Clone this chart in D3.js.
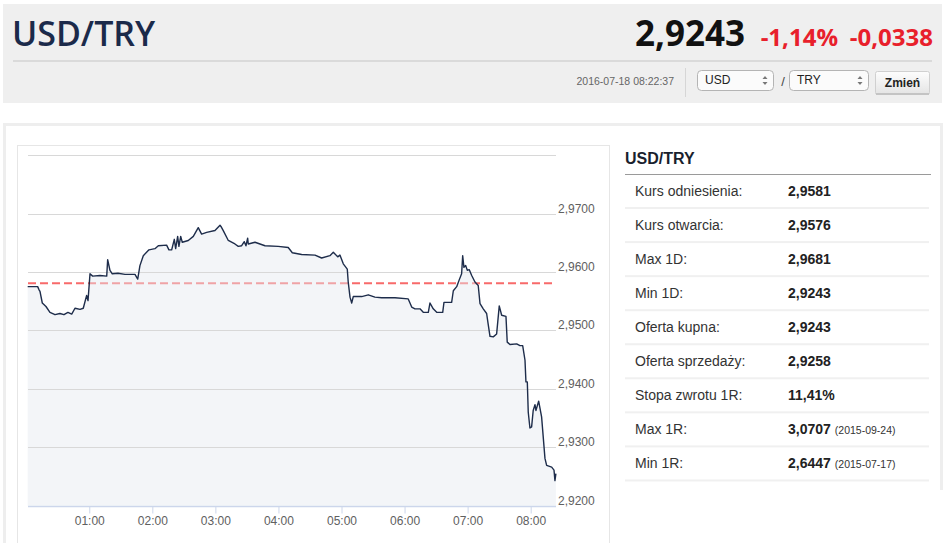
<!DOCTYPE html>
<html><head><meta charset="utf-8">
<script src="https://cdn.jsdelivr.net/npm/d3@7"></script>
<style>
html,body{margin:0;padding:0;background:#fff;width:945px;height:543px;overflow:hidden}
svg{display:block}
</style></head><body>
<svg id="c" width="945" height="543"></svg>
<script>
// ---------- data ----------
const pairName = "USD/TRY";
const lastPrice = "2,9243";
const changePct = "-1,14%";
const changeAbs = "-0,0338";
const timestamp = "2016-07-18 08:22:37";
const baseCur = "USD";
const quoteCur = "TRY";
const buttonLabel = "Zmień";
const referenceRate = 2.9581;

// minutes after 00:00 on 2016-07-18
const minutes = [1.4,10.9,12.1,13.1,15.3,18.8,22.6,27.4,32.1,35.9,39.7,43.3,46.4,51.2,54.3,57.5,58.8,60.7,63.2,70.2,76.6,77.5,79.7,81.9,87.3,94.0,103.5,106.1,108.2,111.4,116.8,122.5,125.7,133.6,135.8,138.4,140.9,142.2,144.1,145.3,147.0,148.5,154.2,159.0,163.7,166.9,171.7,179.6,184.4,185.3,187.5,192.3,198.6,201.8,205.0,207.5,209.1,210.7,211.3,217.7,227.2,239.8,249.3,253.2,262.1,274.8,281.1,289.0,292.2,296.4,298.5,301.7,305.5,306.4,308.1,309.7,311.2,319.2,325.5,331.8,338.2,350.9,363.5,366.8,369.9,374.7,377.8,382.6,384.2,387.3,390.6,396.3,397.5,404.8,406.4,409.6,412.1,414.3,415.3,416.5,418.2,419.7,421.6,423.9,427.0,430.1,431.8,434.9,438.1,439.7,441.3,444.4,447.6,450.1,452.4,456.5,457.7,460.3,466.7,469.8,472.4,474.6,475.5,476.8,477.7,479.3,480.9,482.4,484.1,485.0,487.6,490.4,493.6,495.2,500.0,502.2,503.1,504.0];
const rates = [2.9575,2.9575,2.9570,2.9567,2.9547,2.9541,2.9531,2.9527,2.9529,2.9527,2.9531,2.9528,2.9538,2.9536,2.9538,2.9560,2.9551,2.9597,2.9593,2.9594,2.9593,2.9621,2.9603,2.9597,2.9598,2.9596,2.9596,2.9588,2.9611,2.9628,2.9638,2.9640,2.9645,2.9646,2.9638,2.9638,2.9656,2.9640,2.9661,2.9644,2.9661,2.9651,2.9654,2.9661,2.9676,2.9665,2.9668,2.9671,2.9680,2.9678,2.9671,2.9654,2.9648,2.9644,2.9645,2.9652,2.9645,2.9658,2.9648,2.9651,2.9645,2.9644,2.9642,2.9633,2.9630,2.9629,2.9624,2.9628,2.9634,2.9626,2.9629,2.9614,2.9605,2.9583,2.9557,2.9547,2.9558,2.9558,2.9561,2.9557,2.9556,2.9556,2.9554,2.9540,2.9537,2.9537,2.9531,2.9531,2.9547,2.9537,2.9531,2.9531,2.9548,2.9548,2.9568,2.9575,2.9587,2.9597,2.9628,2.9608,2.9611,2.9603,2.9604,2.9594,2.9583,2.9577,2.9546,2.9537,2.9529,2.9509,2.9490,2.9489,2.9494,2.9542,2.9526,2.9524,2.9480,2.9476,2.9477,2.9474,2.9474,2.9449,2.9412,2.9412,2.9360,2.9333,2.9335,2.9363,2.9373,2.9363,2.9379,2.9352,2.9281,2.9269,2.9266,2.9261,2.9243,2.9255];

const xDomainMinutes = [1.7, 504.1];
const yDomain = [2.92, 2.98];
const gridValues = [2.93, 2.94, 2.95, 2.96, 2.97, 2.98];
const yTickLabels = [2.92, 2.93, 2.94, 2.95, 2.96, 2.97];

const statLabels = ["Kurs odniesienia:", "Kurs otwarcia:", "Max 1D:", "Min 1D:", "Oferta kupna:", "Oferta sprzedaży:", "Stopa zwrotu 1R:", "Max 1R:", "Min 1R:"];
const statValues = ["2,9581", "2,9576", "2,9681", "2,9243", "2,9243", "2,9258", "11,41%", "3,0707", "2,6447"];
const statNotes  = ["", "", "", "", "", "", "", "(2015-09-24)", "(2015-07-17)"];

// ---------- drawing ----------
const svg = d3.select("#c");
const F = "'Liberation Sans', Arial, sans-serif";
const H = "'Open Sans', 'Liberation Sans', Arial, sans-serif";

// header box
svg.append("rect").attr("x",3).attr("y",4).attr("width",939).attr("height",99).attr("fill","#efefef");
svg.append("text").attr("x",12).attr("y",46).attr("font-family",H).attr("font-weight",600)
  .attr("font-size",34).attr("fill","#1b2a4a").text(pairName);
svg.append("text").attr("x",933).attr("y",46).attr("text-anchor","end").attr("font-family",H).attr("font-weight",700)
  .attr("font-size",24).attr("fill","#e8202b").text(changeAbs);
svg.append("text").attr("x",838).attr("y",46).attr("text-anchor","end").attr("font-family",H).attr("font-weight",700)
  .attr("font-size",24).attr("fill","#e8202b").text(changePct);
svg.append("text").attr("x",745).attr("y",46).attr("text-anchor","end").attr("font-family",H).attr("font-weight",700)
  .attr("font-size",35).attr("fill","#111").text(lastPrice);
svg.append("rect").attr("x",13).attr("y",60).attr("width",919).attr("height",2).attr("fill","#dadada");
svg.append("text").attr("x",674).attr("y",85).attr("text-anchor","end").attr("font-family",F)
  .attr("font-size",10.5).attr("fill","#666").text(timestamp);
svg.append("rect").attr("x",685).attr("y",68).attr("width",1).attr("height",29).attr("fill","#d6d6d6");

function selectBox(x0, w, label){
  const g = svg.append("g");
  g.append("rect").attr("x",x0+0.5).attr("y",70.5).attr("width",w).attr("height",20).attr("rx",4)
    .attr("fill","#fbfbfb").attr("stroke","#b4b4b4");
  g.append("text").attr("x",x0+8).attr("y",84).attr("font-family",F).attr("font-size",12).attr("fill","#222").text(label);
  const ax = x0 + w - 8;
  g.append("path").attr("d",`M${ax-2.5},79 L${ax+2.5},79 L${ax},76 Z`).attr("fill","#777");
  g.append("path").attr("d",`M${ax-2.5},82 L${ax+2.5},82 L${ax},85 Z`).attr("fill","#777");
}
selectBox(697, 76, baseCur);
svg.append("text").attr("x",783).attr("y",86).attr("text-anchor","middle").attr("font-family",F).attr("font-size",13).attr("fill","#444").text("/");
selectBox(789, 79, quoteCur);
const btnGrad = svg.append("defs").append("linearGradient").attr("id","bg").attr("x1",0).attr("y1",0).attr("x2",0).attr("y2",1);
btnGrad.append("stop").attr("offset",0).attr("stop-color","#fdfdfd");
btnGrad.append("stop").attr("offset",1).attr("stop-color","#e4e4e4");
svg.append("rect").attr("x",875.5).attr("y",71.5).attr("width",54).attr("height",23).attr("rx",2)
  .attr("fill","url(#bg)").attr("stroke","#d0d0d0");
svg.append("rect").attr("x",876).attr("y",93).attr("width",53).attr("height",2).attr("fill","#c4c4c4");
svg.append("text").attr("x",902.5).attr("y",87).attr("text-anchor","middle").attr("font-family",F).attr("font-weight",700)
  .attr("font-size",12).attr("fill","#222").text(buttonLabel);

// main panel borders
svg.append("rect").attr("x",3).attr("y",123).attr("width",939).attr("height",3).attr("fill","#eeeeee");
svg.append("rect").attr("x",3).attr("y",123).attr("width",3).attr("height",420).attr("fill","#eeeeee");
svg.append("rect").attr("x",940).attr("y",123).attr("width",3).attr("height",367).attr("fill","#eeeeee");
svg.append("rect").attr("x",17.5).attr("y",145.5).attr("width",592).attr("height",420).attr("fill","#fff").attr("stroke","#e6e6e6");

// chart
const t0 = Date.UTC(2016,6,18,0,0,0);
const toDate = m => new Date(t0 + m*60000);
const data = d3.zip(minutes, rates).map(([m,v]) => ({t: toDate(m), v}));
const x = d3.scaleUtc().domain(xDomainMinutes.map(toDate)).range([28, 556]);
const y = d3.scaleLinear().domain(yDomain).range([505.7, 155.2]);
const loc = d3.formatLocale({decimal:",", thousands:" ", grouping:[3], currency:["","zł"]});
const fmt = loc.format(".4f");

// dashed reference line (under the area)
svg.append("line").attr("x1",28).attr("x2",556).attr("y1",y(referenceRate)).attr("y2",y(referenceRate))
  .attr("stroke","#f86a6a").attr("stroke-width",2).attr("stroke-dasharray","8,4");

// area
svg.append("path").datum(data)
  .attr("d", d3.area().x(d=>x(d.t)).y0(y(yDomain[0])).y1(d=>y(d.v)))
  .attr("fill","rgba(228,233,240,0.45)");

// grid
svg.append("g").selectAll("line").data(gridValues).join("line")
  .attr("x1",28).attr("x2",556).attr("y1",d=>Math.round(y(d))+0.5).attr("y2",d=>Math.round(y(d))+0.5)
  .attr("stroke","#d8d8d8").attr("stroke-width",1);

// line
svg.append("path").datum(data)
  .attr("d", d3.line().x(d=>x(d.t)).y(d=>y(d.v)))
  .attr("fill","none").attr("stroke","#1e2d4b").attr("stroke-width",1.4).attr("stroke-linejoin","round");

// y labels
svg.append("g").selectAll("text").data(yTickLabels).join("text")
  .attr("x",558).attr("y",d=>y(d)-1).attr("font-family",F).attr("font-size",12).attr("fill","#606060")
  .text(d=>fmt(d));

// x axis
const xa = svg.append("g").attr("transform",`translate(0,${Math.round(y(yDomain[0]))+0.5})`)
  .call(d3.axisBottom(x).ticks(d3.utcHour.every(1)).tickFormat(d3.utcFormat("%H:%M")).tickSize(7).tickPadding(3));
xa.select(".domain").remove();
xa.selectAll(".tick line").attr("stroke","#ccd6eb");
xa.selectAll(".tick text").attr("font-family",F).attr("font-size",12).attr("fill","#606060");
svg.append("line").attr("x1",28).attr("x2",556).attr("y1",Math.round(y(yDomain[0]))+0.5).attr("y2",Math.round(y(yDomain[0]))+0.5)
  .attr("stroke","#ccd6eb").attr("stroke-width",1.5);

// stats table
svg.append("text").attr("x",625).attr("y",164).attr("font-family",F).attr("font-weight",700).attr("font-size",16)
  .attr("fill","#1a1f2e").text(pairName);
svg.append("rect").attr("x",625).attr("y",174).attr("width",306).attr("height",1).attr("fill","#9a9a9a");
const rowH = 34.05, top0 = 174.5;
const rows = svg.append("g").selectAll("g").data(statLabels.map((l,i)=>({l, v:statValues[i], n:statNotes[i], i}))).join("g")
  .attr("transform", d=>`translate(0,${top0 + d.i*rowH})`);
rows.append("rect").attr("x",625).attr("y",rowH-1.5).attr("width",304).attr("height",2).attr("fill","#f0f0f0");
rows.append("text").attr("x",635).attr("y",rowH/2+4).attr("font-family",F).attr("font-size",14).attr("fill","#333").text(d=>d.l);
const vt = rows.append("text").attr("x",788).attr("y",rowH/2+4).attr("font-family",F).attr("fill","#222");
vt.append("tspan").attr("font-weight",700).attr("font-size",14).text(d=>d.v);
vt.append("tspan").attr("font-size",10.5).attr("fill","#333").attr("dx",4).text(d=>d.n);
</script>
</body></html>
